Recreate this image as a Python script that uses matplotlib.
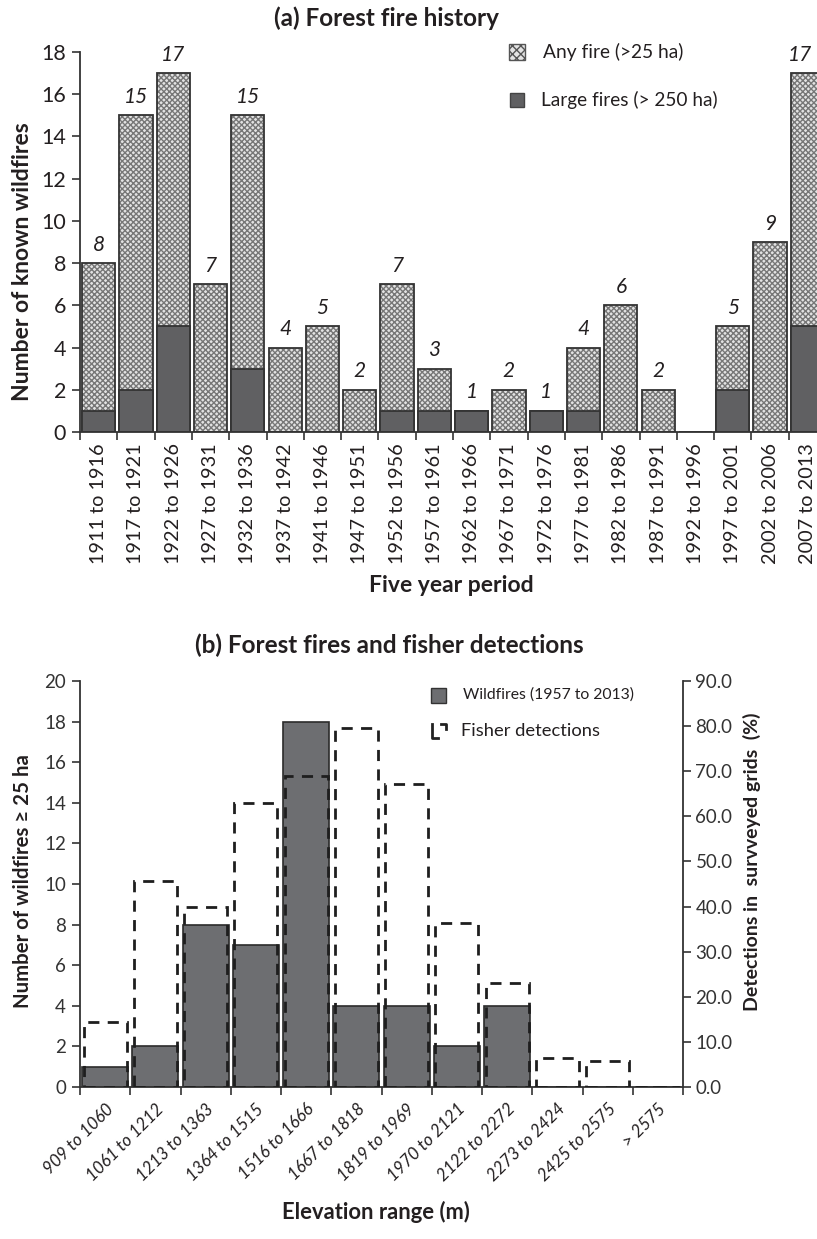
import numpy as np
import matplotlib
matplotlib.use('Agg')
import matplotlib.pyplot as plt
from matplotlib.patches import Rectangle
from matplotlib.lines import Line2D

plt.rcParams['font.family'] = ['Lato', 'DejaVu Sans']
plt.rcParams['hatch.linewidth'] = 1.0
TXT = '#231f20'

# (a) fire history by five year period
periods = ['1911 to 1916', '1917 to 1921', '1922 to 1926', '1927 to 1931', '1932 to 1936',
           '1937 to 1942', '1941 to 1946', '1947 to 1951', '1952 to 1956', '1957 to 1961',
           '1962 to 1966', '1967 to 1971', '1972 to 1976', '1977 to 1981', '1982 to 1986',
           '1987 to 1991', '1992 to 1996', '1997 to 2001', '2002 to 2006', '2007 to 2013']
any_fire = [8, 15, 17, 7, 15, 4, 5, 2, 7, 3, 1, 2, 1, 4, 6, 2, 0, 5, 9, 17]
large_fire = [1, 2, 5, 0, 3, 0, 0, 0, 1, 1, 1, 0, 1, 1, 0, 0, 0, 2, 0, 5]

# (b) wildfires and fisher detections by elevation
elev = ['909 to 1060', '1061 to 1212', '1213 to 1363', '1364 to 1515', '1516 to 1666',
        '1667 to 1818', '1819 to 1969', '1970 to 2121', '2122 to 2272', '2273 to 2424',
        '2425 to 2575', '> 2575']
wildfires = [1, 2, 8, 7, 18, 4, 4, 2, 4, 0, 0, 0]
detections = [14.4, 45.7, 40.0, 63.0, 68.9, 79.5, 67.1, 36.4, 23.1, 6.4, 5.8, 0.0]

W, H = 817, 1239
fig = plt.figure(figsize=(W / 100, H / 100), dpi=100)


def fx(p):
    return p / W


def fy(p):
    return 1 - p / H


# ---------- panel (a) ----------
ax = fig.add_axes([fx(80), fy(432), (826 - 80) / W, (432 - 52) / H])
x = np.arange(len(periods))
ax.bar(x, any_fire, width=0.89, color='#e3e3e3', hatch='xxxxxx', edgecolor='#777777', linewidth=0)
ax.bar(x, any_fire, width=0.89, fill=False, edgecolor='#333333', linewidth=1.3)
ax.bar(x, large_fire, width=0.89, color='#606062', edgecolor='#333333', linewidth=1.3)
for xi, v in zip(x, any_fire):
    if v > 0:
        # the last label sits at the figure edge, nudge it inside
        xl = min(xi, len(periods) - 1.2)
        ax.text(xl, v + 0.4, str(v), ha='center', va='bottom', fontsize=15,
                style='italic', color=TXT)

ax.set_xlim(-0.5, len(periods) - 0.5)
ax.set_ylim(0, 18)
ax.set_yticks(range(0, 19, 2))
ax.set_xticks(x)
ax.set_xticklabels(periods, rotation=90, fontsize=14.3, color=TXT)
ax.set_xticks(np.arange(-0.5, len(periods), 1), minor=True)
ax.tick_params(axis='x', which='major', length=0, pad=8)
ax.tick_params(axis='x', which='minor', length=6, width=1.2, color='#333333')
ax.tick_params(axis='y', length=6, width=1.2, color='#333333', labelsize=15.5,
               labelcolor=TXT, pad=4)
for s in ['top', 'right']:
    ax.spines[s].set_visible(False)
for s in ['left', 'bottom']:
    ax.spines[s].set_linewidth(1.3)
    ax.spines[s].set_color('#333333')

fig.text(fx(386), fy(18), '(a) Forest fire history', ha='center', va='center',
         fontsize=17.5, fontweight='bold', color=TXT)
fig.text(fx(451), fy(585), 'Five year period', ha='center', va='center',
         fontsize=16.5, fontweight='bold', color=TXT)
fig.text(fx(23), fy(262), 'Number of known wildfires', ha='center', va='center',
         rotation=90, fontsize=16.5, fontweight='bold', color=TXT)

# legend (a)
fig.patches.append(Rectangle((fx(509), fy(60)), 16 / W, 16 / H, transform=fig.transFigure,
                             facecolor='#e3e3e3', hatch='xxxx', edgecolor='#555555',
                             linewidth=1.0))
fig.text(fx(543), fy(52), 'Any fire (>25 ha)', ha='left', va='center', fontsize=13.8,
         color=TXT)
fig.patches.append(Rectangle((fx(510), fy(107)), 14 / W, 14 / H, transform=fig.transFigure,
                             facecolor='#606062', edgecolor='#444444', linewidth=1.0))
fig.text(fx(541), fy(100), 'Large fires (> 250 ha)', ha='left', va='center', fontsize=13.7,
         color=TXT)

# ---------- panel (b) ----------
bx = fig.add_axes([fx(80), fy(1087), (683 - 80) / W, (1087 - 681) / H])
xe = np.arange(len(elev))
bx.bar(xe, wildfires, width=0.92, color='#6d6e71', edgecolor='#2b2b2b', linewidth=1.2)
bx.set_xlim(-0.5, len(elev) - 0.5)
bx.set_ylim(0, 20)
bx.set_yticks(range(0, 21, 2))
bx.set_xticks(xe)
bx.set_xticklabels(elev, rotation=45, ha='right', rotation_mode='anchor', fontsize=12.3,
                   style='italic', color=TXT)
bx.set_xticks(np.arange(-0.5, len(elev), 1), minor=True)
bx.tick_params(axis='x', which='major', length=0, pad=10)
bx.tick_params(axis='x', which='minor', length=6, width=1.2, color='#333333')
bx.tick_params(axis='y', length=6, width=1.2, color='#333333', labelsize=13.5,
               labelcolor='#333333', pad=4)
bx.spines['top'].set_visible(False)
bx.spines['right'].set_visible(False)
for s in ['left', 'bottom']:
    bx.spines[s].set_linewidth(1.3)
    bx.spines[s].set_color('#333333')

tx = bx.twinx()
tx.bar(xe, detections, width=0.86, fill=False, edgecolor='#1e1e1e', linewidth=2.0,
       linestyle=(0, (4, 3)))
tx.set_ylim(0, 90)
tx.set_yticks(np.arange(0, 91, 10))
tx.set_yticklabels(['%.1f' % v for v in np.arange(0, 91, 10)])
tx.tick_params(axis='y', length=6, width=1.2, color='#333333', labelsize=13.5,
               labelcolor='#333333', pad=3)
tx.spines['top'].set_visible(False)
tx.spines['left'].set_visible(False)
tx.spines['bottom'].set_visible(False)
tx.spines['right'].set_linewidth(1.3)
tx.spines['right'].set_color('#333333')

fig.text(fx(389), fy(645), '(b) Forest fires and fisher detections', ha='center',
         va='center', fontsize=17.5, fontweight='bold', color=TXT)
fig.text(fx(376), fy(1212), 'Elevation range (m)', ha='center', va='center',
         fontsize=15.8, fontweight='bold', color=TXT)
fig.text(fx(23), fy(881), 'Number of wildfires \u2265 25 ha', ha='center', va='center',
         rotation=90, fontsize=14.7, fontweight='bold', color=TXT)
fig.text(fx(752), fy(862), 'Detections in  survveyed grids  (%)', ha='center',
         va='center', rotation=90, fontsize=14, fontweight='bold', color=TXT)

# legend (b)
fig.patches.append(Rectangle((fx(431), fy(703)), 15 / W, 15 / H, transform=fig.transFigure,
                             facecolor='#6d6e71', edgecolor='#333333', linewidth=1.0))
fig.text(fx(463), fy(695), 'Wildfires (1957 to 2013)', ha='left', va='center',
         fontsize=11.3, color=TXT)
fig.lines.append(Line2D([fx(432), fx(432), fx(438)], [fy(724), fy(738), fy(738)],
                        transform=fig.transFigure, color='#222222', linewidth=2))
fig.lines.append(Line2D([fx(441), fx(446), fx(446)], [fy(724), fy(724), fy(729)],
                        transform=fig.transFigure, color='#222222', linewidth=2))
fig.text(fx(461), fy(731), 'Fisher detections', ha='left', va='center', fontsize=13.2,
         color=TXT)

fig.savefig('out.png', dpi=100)
